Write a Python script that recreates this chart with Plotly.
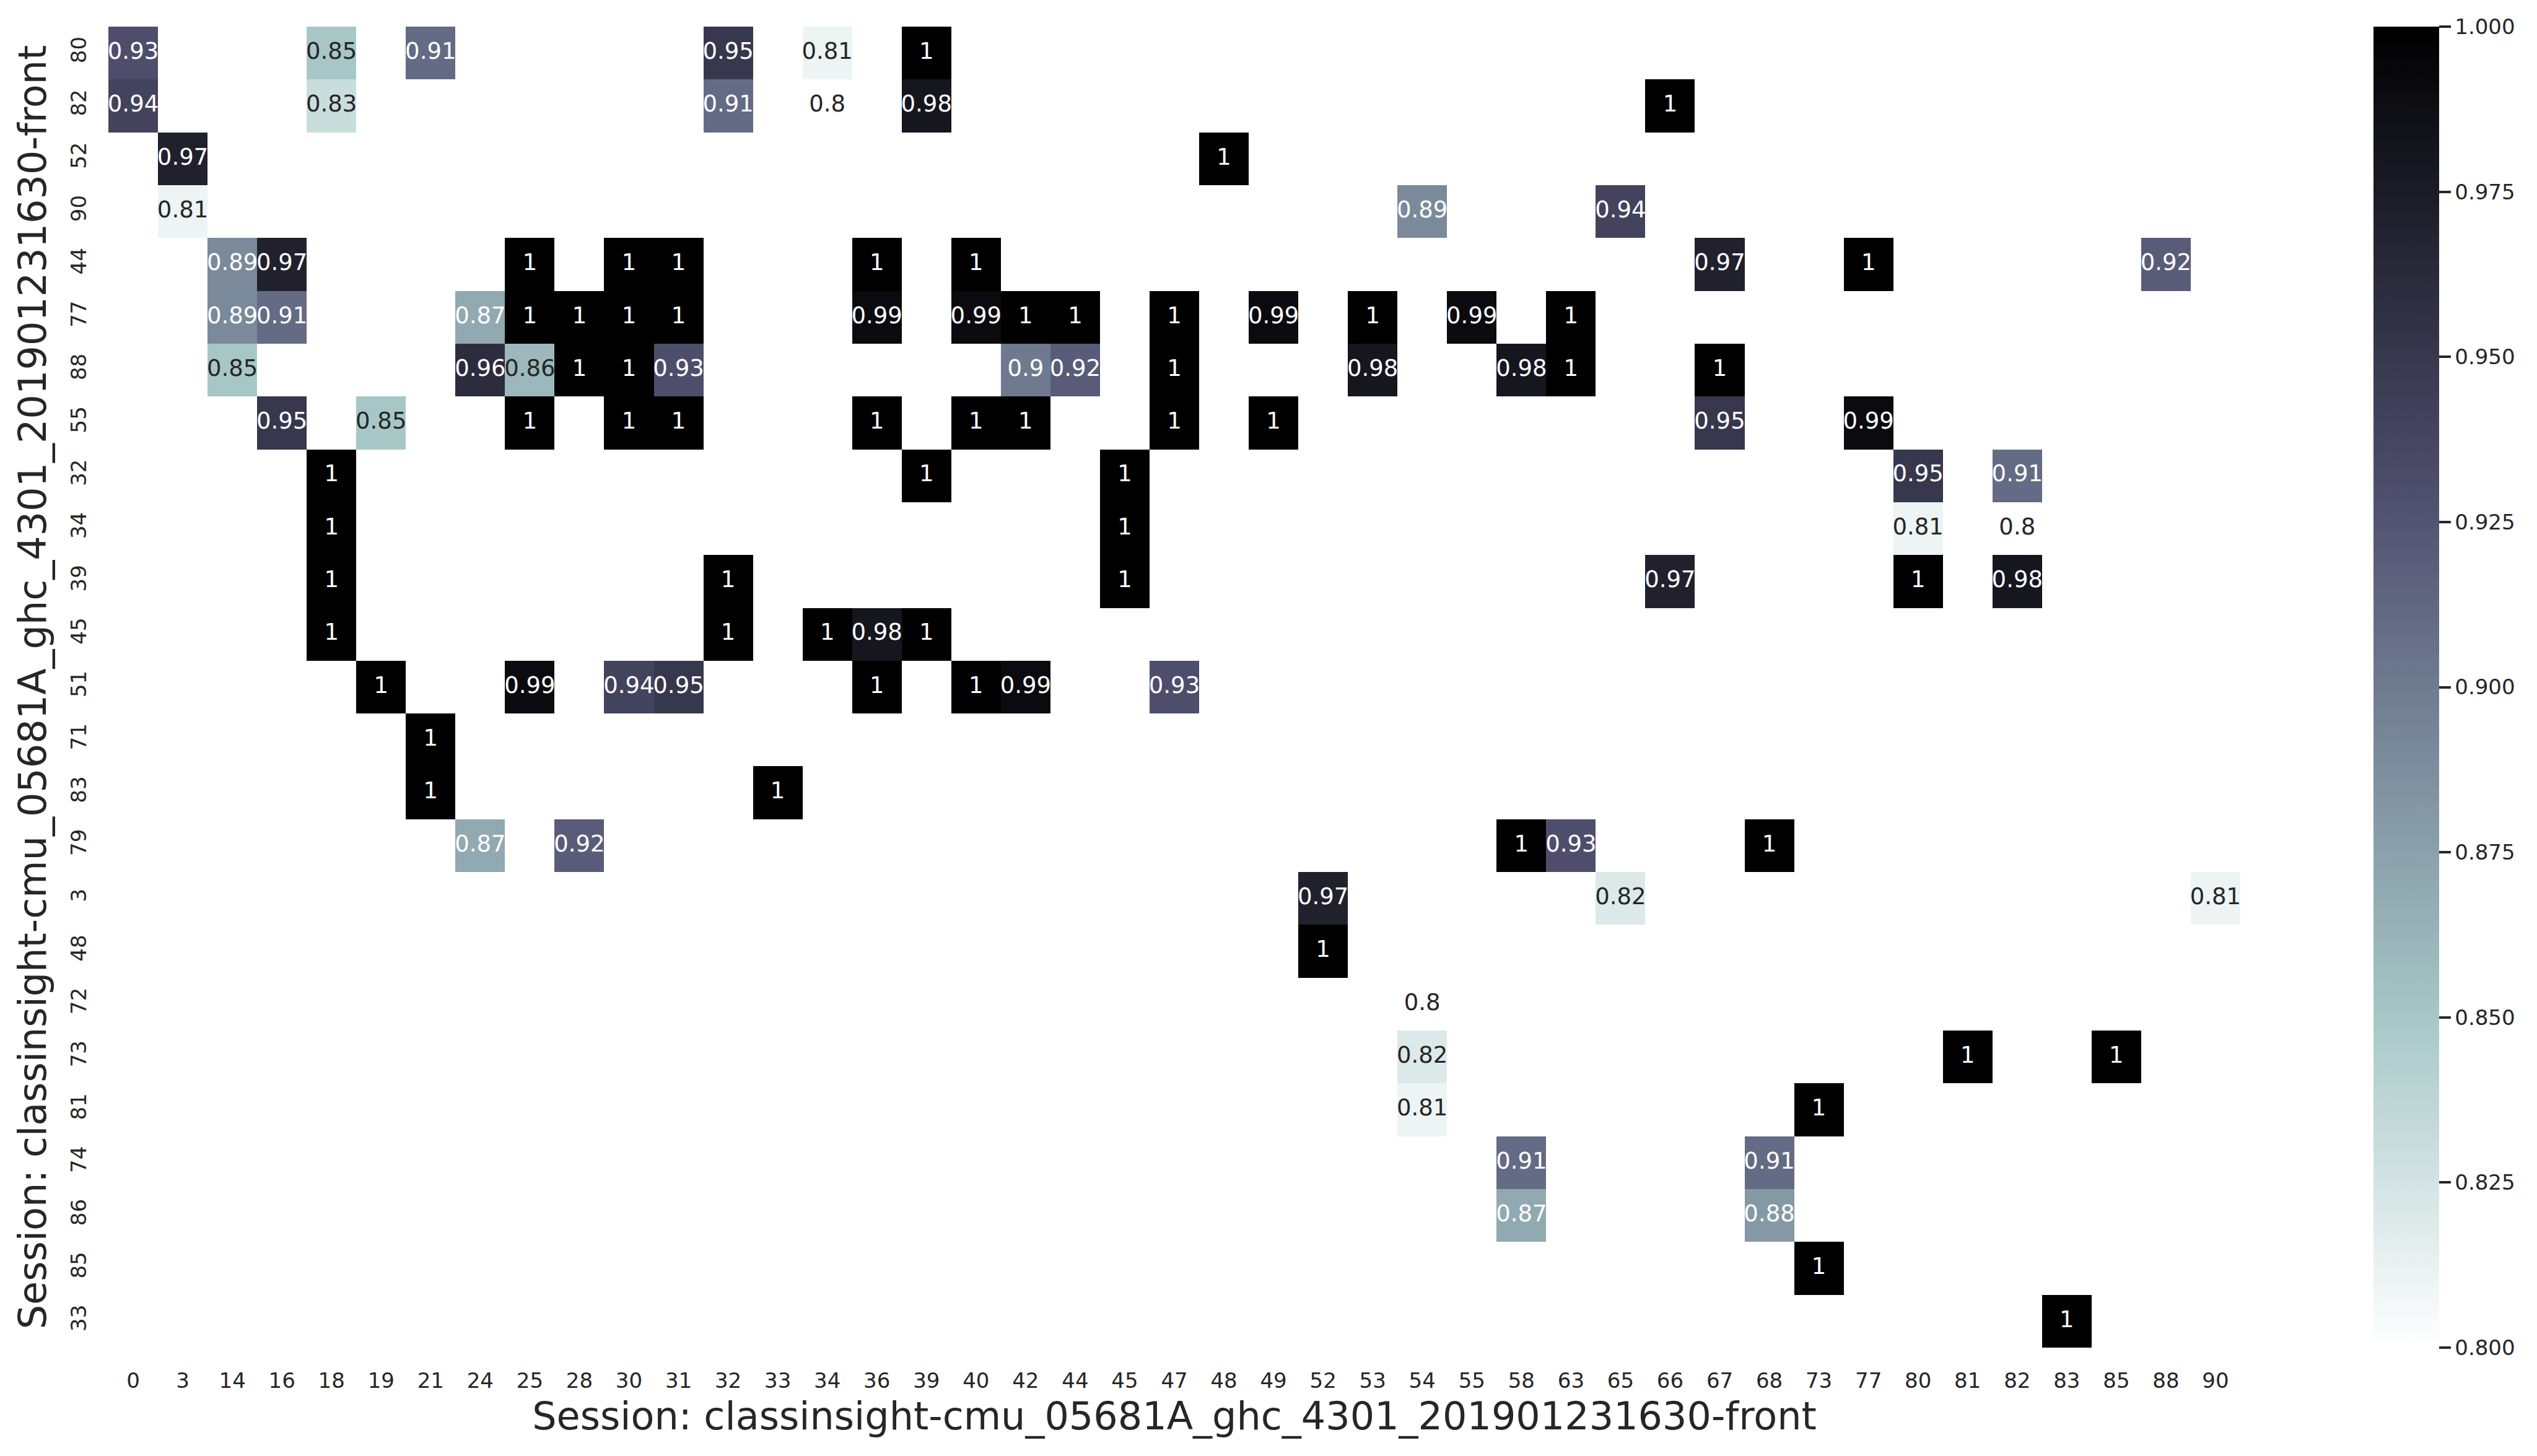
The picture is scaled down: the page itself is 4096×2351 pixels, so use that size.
import plotly.graph_objects as go

# ---------------- data ----------------
row_labels = ["80", "82", "52", "90", "44", "77", "88", "55", "32", "34", "39", "45", "51",
              "71", "83", "79", "3", "48", "72", "73", "81", "74", "86", "85", "33"]
col_labels = ["0", "3", "14", "16", "18", "19", "21", "24", "25", "28", "30", "31", "32", "33",
              "34", "36", "39", "40", "42", "44", "45", "47", "48", "49", "52", "53", "54", "55",
              "58", "63", "65", "66", "67", "68", "73", "77", "80", "81", "82", "83", "85", "88", "90"]

# sparse cells: row label, column label, value
cell_rows = (["80"] * 6 + ["82"] * 6 + ["52"] * 2 + ["90"] * 3 + ["44"] * 10 + ["77"] * 16 +
             ["88"] * 13 + ["55"] * 12 + ["32"] * 5 + ["34"] * 4 + ["39"] * 6 + ["45"] * 5 +
             ["51"] * 8 + ["71"] * 1 + ["83"] * 2 + ["79"] * 5 + ["3"] * 3 + ["48"] * 1 +
             ["72"] * 1 + ["73"] * 3 + ["81"] * 2 + ["74"] * 2 + ["86"] * 2 + ["85"] * 1 + ["33"] * 1)
cell_cols = ["0", "18", "21", "32", "34", "39",
             "0", "18", "32", "34", "39", "66",
             "3", "48",
             "3", "54", "65",
             "14", "16", "25", "30", "31", "36", "40", "67", "77", "88",
             "14", "16", "24", "25", "28", "30", "31", "36", "40", "42", "44", "47", "49", "53", "55", "63",
             "14", "24", "25", "28", "30", "31", "42", "44", "47", "53", "58", "63", "67",
             "16", "19", "25", "30", "31", "36", "40", "42", "47", "49", "67", "77",
             "18", "39", "45", "80", "82",
             "18", "45", "80", "82",
             "18", "32", "45", "66", "80", "82",
             "18", "32", "34", "36", "39",
             "19", "25", "30", "31", "36", "40", "42", "47",
             "21",
             "21", "33",
             "24", "28", "58", "63", "68",
             "52", "65", "90",
             "52",
             "54",
             "54", "81", "85",
             "54", "73",
             "58", "68",
             "58", "68",
             "73",
             "83"]
cell_values = [0.93, 0.85, 0.91, 0.95, 0.81, 1.0,
               0.94, 0.83, 0.91, 0.80, 0.98, 1.0,
               0.97, 1.0,
               0.81, 0.89, 0.94,
               0.89, 0.97, 1.0, 1.0, 1.0, 1.0, 1.0, 0.97, 1.0, 0.92,
               0.89, 0.91, 0.87, 1.0, 1.0, 1.0, 1.0, 0.99, 0.99, 1.0, 1.0, 1.0, 0.99, 1.0, 0.99, 1.0,
               0.85, 0.96, 0.86, 1.0, 1.0, 0.93, 0.90, 0.92, 1.0, 0.98, 0.98, 1.0, 1.0,
               0.95, 0.85, 1.0, 1.0, 1.0, 1.0, 1.0, 1.0, 1.0, 1.0, 0.95, 0.99,
               1.0, 1.0, 1.0, 0.95, 0.91,
               1.0, 1.0, 0.81, 0.80,
               1.0, 1.0, 1.0, 0.97, 1.0, 0.98,
               1.0, 1.0, 1.0, 0.98, 1.0,
               1.0, 0.99, 0.94, 0.95, 1.0, 1.0, 0.99, 0.93,
               1.0,
               1.0, 1.0,
               0.87, 0.92, 1.0, 0.93, 1.0,
               0.97, 0.82, 0.81,
               1.0,
               0.80,
               0.82, 1.0, 1.0,
               0.81, 1.0,
               0.91, 0.91,
               0.87, 0.88,
               1.0,
               1.0]

cbar_ticks = [0.800, 0.825, 0.850, 0.875, 0.900, 0.925, 0.950, 0.975, 1.000]
vmin, vmax = 0.8, 1.0
x_title = "Session: classinsight-cmu_05681A_ghc_4301_201901231630-front"
y_title = "Session: classinsight-cmu_05681A_ghc_4301_201901231630-front"

# ---------------- colour map (bone_r) ----------------
bone_r_stops = [(0.0, (1.0, 1.0, 1.0)),
                (1 - 0.746032, (0.652778, 0.777778, 0.777778)),
                (1 - 0.365079, (0.319444, 0.319444, 0.444444)),
                (1.0, (0.0, 0.0, 0.0))]
colorscale = [[p, "rgb(%d,%d,%d)" % tuple(round(c * 255) for c in rgb)] for p, rgb in bone_r_stops]


def cmap(v):
    t = min(max((v - vmin) / (vmax - vmin), 0), 1)
    for (p0, c0), (p1, c1) in zip(bone_r_stops[:-1], bone_r_stops[1:]):
        if p0 <= t <= p1:
            f = (t - p0) / (p1 - p0) if p1 > p0 else 0
            return tuple(a + (b - a) * f for a, b in zip(c0, c1))
    return bone_r_stops[-1][1]


def luminance(rgb):
    lin = [c / 12.92 if c <= 0.03928 else ((c + 0.055) / 1.055) ** 2.4 for c in rgb]
    return 0.2126 * lin[0] + 0.7152 * lin[1] + 0.0722 * lin[2]


# ---------------- matrix ----------------
z = [[None] * len(col_labels) for _ in row_labels]
for r, c, v in zip(cell_rows, cell_cols, cell_values):
    z[row_labels.index(r)][col_labels.index(c)] = v

txt = ["%.2g" % v for v in cell_values]
txt_colors = ["#262626" if luminance(cmap(v)) > 0.408 else "#ffffff" for v in cell_values]

FONT = "DejaVu Sans"
INK = "#262626"

fig = go.Figure()
fig.add_trace(go.Heatmap(
    z=z, x=col_labels, y=row_labels,
    colorscale=colorscale, zmin=vmin, zmax=vmax,
    hoverongaps=False,
    colorbar=dict(
        x=1.0625, xanchor="left", xpad=0, ypad=0,
        y=0.5, yanchor="middle", len=1.0, lenmode="fraction",
        thickness=106, outlinewidth=0,
        tickvals=cbar_ticks, ticktext=["%.3f" % t for t in cbar_ticks],
        ticks="outside", ticklen=19, tickwidth=4, tickcolor=INK,
        tickfont=dict(family=FONT, size=34, color=INK),
    ),
))
fig.add_trace(go.Scatter(
    x=cell_cols, y=cell_rows, mode="text", text=txt,
    textfont=dict(family=FONT, size=37, color=txt_colors),
    hoverinfo="skip", showlegend=False,
))

fig.update_layout(
    width=4096, height=2351,
    margin=dict(l=175, r=479, t=43, b=175),
    paper_bgcolor="white", plot_bgcolor="white",
    font=dict(family=FONT, color=INK),
    showlegend=False,
)
fig.update_xaxes(
    type="category", categoryorder="array", categoryarray=col_labels,
    range=[-0.5, len(col_labels) - 0.5],
    showgrid=False, zeroline=False, showline=False, ticks="",
    tickfont=dict(family=FONT, size=34, color=INK), ticklabelstandoff=30,
    title=dict(text=x_title, font=dict(family=FONT, size=62, color=INK), standoff=16),
)
fig.update_yaxes(
    type="category", categoryorder="array", categoryarray=row_labels,
    range=[len(row_labels) - 0.5, -0.5],
    showgrid=False, zeroline=False, showline=False, ticks="",
    tickangle=-90,
    tickfont=dict(family=FONT, size=34, color=INK), ticklabelstandoff=28,
    title=dict(text=y_title, font=dict(family=FONT, size=62, color=INK), standoff=12),
)

fig.write_html("out.html")
